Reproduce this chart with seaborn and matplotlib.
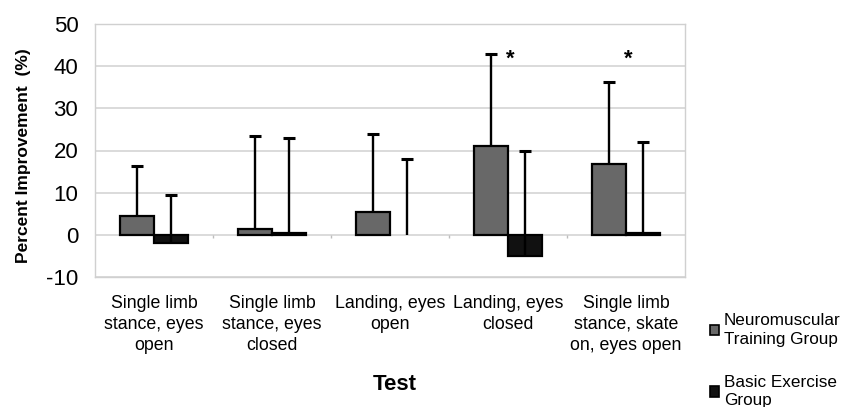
import numpy as np
import pandas as pd
import matplotlib
matplotlib.use("Agg")
import matplotlib.pyplot as plt
import seaborn as sns
from matplotlib.patches import Patch

# Test conditions shown along the x axis
tests = [
    "Single limb\nstance, eyes\nopen",
    "Single limb\nstance, eyes\nclosed",
    "Landing, eyes\nopen",
    "Landing, eyes\nclosed",
    "Single limb\nstance, skate\non, eyes open",
]
groups = ["Neuromuscular\nTraining Group", "Basic Exercise\nGroup"]

# Mean percent improvement and standard deviation per group
nm_mean = [4.5, 1.5, 5.4, 21.1, 16.7]
nm_sd = [11.9, 21.9, 18.5, 21.9, 19.5]
be_mean = [-2.0, 0.4, 0.0, -5.0, 0.5]
be_sd = [11.5, 22.5, 17.9, 25.0, 21.5]

# Tests with a significant between-group difference
significant = [False, False, False, True, True]
star_y = 41.6

y_ticks = [-10, 0, 10, 20, 30, 40, 50]

df = pd.DataFrame({
    "test": tests * 2,
    "group": [groups[0]] * len(tests) + [groups[1]] * len(tests),
    "value": nm_mean + be_mean,
    "sd": nm_sd + be_sd,
})

sns.set_theme(style="white")
plt.rcParams["font.family"] = ["Liberation Sans", "DejaVu Sans"]
plt.rcParams["axes.unicode_minus"] = False
plt.rcParams["text.color"] = "black"

fig = plt.figure(figsize=(8.42, 4.07), dpi=100)
ax = fig.add_axes([95 / 842, 1 - 277 / 407, 590 / 842, 253 / 407])

colors = ["#686868", "#111111"]
sns.barplot(data=df, x="test", y="value", hue="group", palette=colors,
            width=0.58, edgecolor="black", linewidth=1.6, errorbar=None,
            legend=False, ax=ax, zorder=3)

# One-sided (upper) error bars drawn from each bar's mean
sds = [nm_sd, be_sd]
means = [nm_mean, be_mean]
for container, sd, mean in zip(ax.containers, sds, means):
    for bar, s, m in zip(container, sd, mean):
        if m == 0:
            bar.set_linewidth(0)
        xc = bar.get_x() + bar.get_width() / 2
        _, caps, _ = ax.errorbar(xc, m, yerr=[[0], [s]], fmt="none",
                                 ecolor="black", elinewidth=1.7, capsize=4.5,
                                 capthick=2.2, zorder=4)
        # keep only the upper cap
        for cap in caps:
            if np.allclose(cap.get_ydata(), m):
                cap.set_visible(False)

# Significance markers
for i, sig in enumerate(significant):
    if sig:
        ax.text(i + 0.02, star_y, "*", ha="center", va="center",
                fontsize=16, fontweight="bold", color="black", zorder=5)

# Category boundary ticks on the zero line
bounds = np.arange(len(tests) - 1) + 0.5
ax.vlines(bounds, -0.7, 0, color="#bdbdbd", linewidth=1, zorder=2)

ax.set_ylim(-10, 50)
ax.set_xlim(-0.5, len(tests) - 0.5)
ax.set_yticks(y_ticks)
ax.yaxis.grid(True, color="#d8d8d8", linewidth=1.3, zorder=0)
ax.set_axisbelow(True)

for side in ["left", "right", "top", "bottom"]:
    ax.spines[side].set_color("#d0d0d0")
    ax.spines[side].set_linewidth(1.0)

ax.tick_params(axis="y", length=6, width=1, color="#cfcfcf", pad=6,
               labelsize=16, labelcolor="black")
ax.tick_params(axis="x", length=0, pad=13, labelsize=12.8, labelcolor="black")
for lbl in ax.get_xticklabels():
    lbl.set_linespacing(1.3)

ax.set_ylabel("Percent Improvement  (%)", fontsize=12.5, fontweight="bold",
              color="black")
ax.yaxis.set_label_coords(-0.108, 0.48)
ax.set_xlabel("Test", fontsize=16, fontweight="bold", color="black")
ax.xaxis.set_label_coords(0.508, -0.385)

handles = [Patch(facecolor=c, edgecolor="black", linewidth=1.2) for c in colors]
leg = fig.legend(handles, groups, loc="upper left",
                 bbox_to_anchor=(710 / 842, 1 - 313 / 407), frameon=False,
                 fontsize=12.3, handlelength=0.55, handleheight=0.55,
                 handletextpad=0.25, labelspacing=1.65, borderpad=0,
                 borderaxespad=0)
for t in leg.get_texts():
    t.set_color("black")
    t.set_linespacing(1.3)

fig.savefig("out.png", dpi=100, facecolor="white")
